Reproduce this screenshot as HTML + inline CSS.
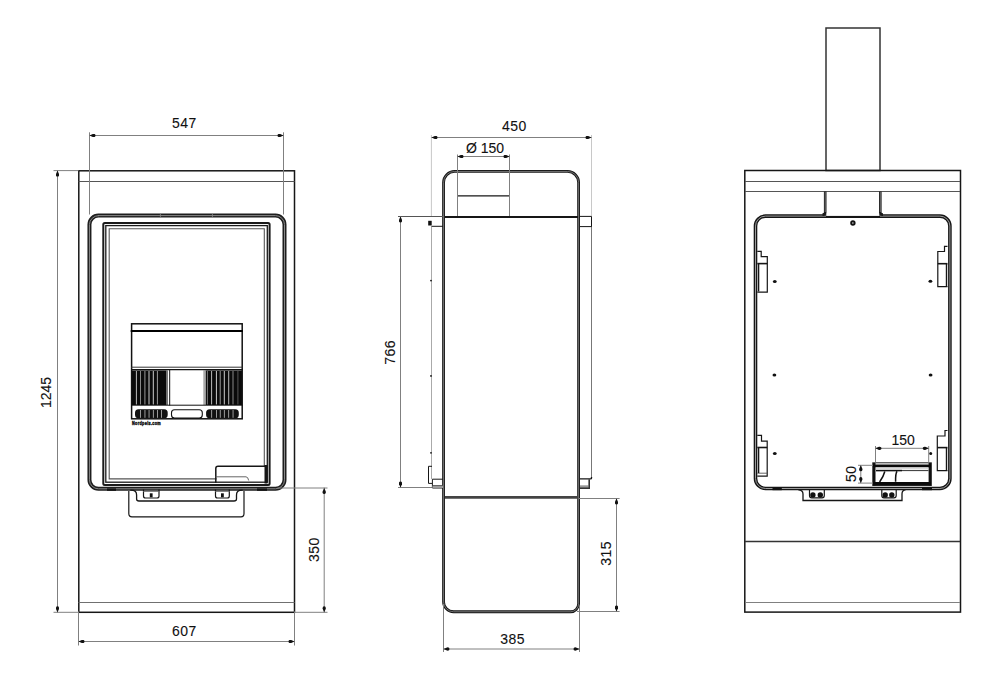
<!DOCTYPE html>
<html><head><meta charset="utf-8">
<style>
html,body{margin:0;padding:0;background:#fff;}
body{width:1000px;height:685px;overflow:hidden;}
svg{display:block;}
text{font-family:"Liberation Sans",sans-serif;fill:#111;stroke:#111;stroke-width:0.1px;letter-spacing:0.5px;}
</style></head><body>
<svg width="1000" height="685" viewBox="0 0 1000 685">
<defs>
<marker id="ar" viewBox="0 0 10 6" refX="10" refY="3" markerWidth="6.5" markerHeight="3.8" orient="auto-start-reverse" markerUnits="userSpaceOnUse">
<path d="M10,3 L4.5,0.5 Q0.5,0 0.5,3 Q0.5,6 4.5,5.5 Z" fill="#111"/>
</marker>
</defs>
<g fill="none" stroke-linecap="square">

<!-- ========== LEFT VIEW ========== -->
<g stroke="#161616" stroke-width="1.5">
<rect x="78.8" y="170.8" width="215.7" height="441.5"/>
</g>
<g stroke="#555" stroke-width="1">
<line x1="79" y1="181.5" x2="294" y2="181.5" stroke="#555"/>
<line x1="79" y1="602.5" x2="294" y2="602.5" stroke="#707070"/>
</g>
<!-- door frame -->
<rect x="89.45" y="215.6" width="195.05" height="273.2" rx="9" stroke="#1e1e1e" stroke-width="4"/>
<rect x="89.45" y="215.6" width="195.05" height="273.2" rx="9" stroke="#888" stroke-width="1"/>
<line x1="160.4" y1="214.5" x2="160.4" y2="216.8" stroke="#888" stroke-width="0.8"/><line x1="212.4" y1="214.5" x2="212.4" y2="216.8" stroke="#888" stroke-width="0.8"/>
<!-- glass frame -->
<g stroke="#1a1a1a">
<rect x="103.3" y="223.1" width="166.3" height="261.9" rx="1.5" stroke-width="2"/>
<rect x="105.8" y="225.6" width="161.5" height="256.6" stroke-width="1.3"/>
<path d="M216,478.9 H109.2 V228.7 H264.3 V466.5" stroke-width="1.1" stroke="#555"/>
</g>


<!-- firebox -->
<g>
<rect x="131.6" y="370.4" width="35" height="34.6" fill="#0a0a0a"/>
<rect x="166.5" y="370.4" width="1.5" height="34.6" fill="#777"/>
<rect x="205.5" y="370.4" width="36.5" height="34.6" fill="#0a0a0a"/>
<rect x="203.3" y="370.4" width="2.3" height="34.6" fill="#aaa"/>
<rect x="135.9" y="371" width="1" height="33.6" fill="#bbb"/><rect x="140.0" y="371" width="1" height="33.6" fill="#888"/><rect x="144.4" y="371" width="1" height="33.6" fill="#999"/><rect x="148.5" y="371" width="1" height="33.6" fill="#ccc"/><rect x="152.8" y="371" width="1" height="33.6" fill="#ccc"/><rect x="156.9" y="371" width="1" height="33.6" fill="#999"/><rect x="206.9" y="371" width="1" height="33.6" fill="#777"/><rect x="211.1" y="371" width="1" height="33.6" fill="#bbb"/><rect x="215.9" y="371" width="1" height="33.6" fill="#ccc"/><rect x="219.7" y="371" width="1" height="33.6" fill="#999"/><rect x="223.8" y="371" width="1" height="33.6" fill="#ccc"/><rect x="228.2" y="371" width="1" height="33.6" fill="#bbb"/><rect x="232.5" y="371" width="1" height="33.6" fill="#888"/><rect x="237.4" y="371" width="1" height="33.6" fill="#555"/>
<rect x="135" y="409.3" width="32.7" height="9" rx="3.5" fill="#111"/>
<rect x="206.1" y="409.3" width="32.7" height="9" rx="3.5" fill="#111"/>
<rect x="140.1" y="410" width="0.9" height="7.8" fill="#aaa"/><rect x="144.5" y="410" width="0.9" height="7.8" fill="#aaa"/><rect x="148.6" y="410" width="0.9" height="7.8" fill="#aaa"/><rect x="152.9" y="410" width="0.9" height="7.8" fill="#aaa"/><rect x="157.0" y="410" width="0.9" height="7.8" fill="#aaa"/><rect x="161.1" y="410" width="0.9" height="7.8" fill="#aaa"/><rect x="211.2" y="410" width="0.9" height="7.8" fill="#aaa"/><rect x="216.0" y="410" width="0.9" height="7.8" fill="#aaa"/><rect x="219.8" y="410" width="0.9" height="7.8" fill="#aaa"/><rect x="223.9" y="410" width="0.9" height="7.8" fill="#aaa"/><rect x="228.2" y="410" width="0.9" height="7.8" fill="#aaa"/><rect x="232.6" y="410" width="0.9" height="7.8" fill="#aaa"/>
<rect x="171.5" y="409.8" width="30.8" height="8.2" rx="3" fill="none" stroke="#111" stroke-width="1.1"/>
<rect x="131.6" y="323.8" width="110.6" height="95" fill="none" stroke="#111" stroke-width="1.5"/>
<line x1="131.6" y1="331" x2="242" y2="331" stroke="#000" stroke-width="1.8"/>
<line x1="131.6" y1="367.2" x2="242" y2="367.2" stroke="#333" stroke-width="1"/>
<line x1="131.6" y1="369.6" x2="242" y2="369.6" stroke="#111" stroke-width="1.2"/>
<line x1="131.6" y1="405.2" x2="242" y2="405.2" stroke="#111" stroke-width="1"/>
<line x1="169.7" y1="370" x2="169.7" y2="405" stroke="#111" stroke-width="1"/>
<text x="132" y="425.4" font-size="6" font-weight="bold" textLength="29" lengthAdjust="spacingAndGlyphs" style="fill:#111;stroke:#111;stroke-width:0.5px">Nordpeis.com</text>
</g>

<!-- lower element / tabs -->
<g fill="none" stroke="#161616" stroke-width="1.2">
<path d="M128.8,491.5 V513.5 Q128.8,516.8 132,516.8 H241 Q244,516.8 244,513.5 V491.5"/>
<path d="M131,490.2 Q136.6,490.2 136.6,495 V499 Q136.6,501 139,501 H234 Q236.5,501 236.5,499 V495 Q236.5,490.2 242,490.2" stroke-width="1.3"/>
<path d="M143.5,490 V496 Q143.5,498 145.5,498 H157 Q159,498 159,496 V490"/>
<path d="M215.5,490 V496 Q215.5,498 217.5,498 H227.3 Q229.3,498 229.3,496 V490"/>
<line x1="143.5" y1="491.5" x2="159" y2="491.5" stroke-width="0.8" stroke="#666"/>
<line x1="215.5" y1="491.5" x2="229.3" y2="491.5" stroke-width="0.8" stroke="#666"/>
<!-- glass bottom right element -->
<path d="M215.8,482 V468.5 Q215.8,466.3 218,466.3 H266" stroke-width="1.5"/><line x1="266" y1="466.5" x2="266" y2="482" stroke-width="3"/>
<path d="M216,476.8 H246 Q248,476.8 248.6,480" stroke-width="0.9" stroke="#555"/>
</g>
<rect x="149.8" y="493.3" width="2.8" height="4" fill="#111"/><rect x="221" y="493.3" width="2.8" height="4" fill="#111"/>
<rect x="257" y="488.4" width="10" height="2.4" fill="#111"/><rect x="107" y="488.4" width="9" height="2.4" fill="#111"/>
<!-- dims left -->
<g stroke="#808080" stroke-width="1">
<line x1="89.5" y1="132.8" x2="89.5" y2="214"/>
<line x1="283.5" y1="132.8" x2="283.5" y2="214"/>
<line x1="89.5" y1="135.5" x2="283.5" y2="135.5" marker-start="url(#ar)" marker-end="url(#ar)"/>
<line x1="54" y1="170.6" x2="78" y2="170.6"/>
<line x1="54" y1="612.3" x2="78" y2="612.3"/>
<line x1="57.5" y1="170.6" x2="57.5" y2="612.3" marker-start="url(#ar)" marker-end="url(#ar)"/>
<line x1="78.5" y1="612" x2="78.5" y2="645"/>
<line x1="294.5" y1="612" x2="294.5" y2="645"/>
<line x1="78.5" y1="641.5" x2="294.5" y2="641.5" marker-start="url(#ar)" marker-end="url(#ar)"/>
<line x1="278" y1="488" x2="327" y2="488"/>
<line x1="295" y1="612.3" x2="327" y2="612.3"/>
<line x1="324.2" y1="488" x2="324.2" y2="612.3" marker-start="url(#ar)" marker-end="url(#ar)"/>
</g>
</g>
<text x="172" y="128" font-size="14">547</text>
<text x="172" y="636" font-size="14">607</text>
<text transform="translate(51,408) rotate(-90)" font-size="14" style="letter-spacing:0">1245</text>
<text transform="translate(318.6,562) rotate(-90)" font-size="14">350</text>

<!-- ========== MIDDLE VIEW ========== -->
<g fill="none">
<path d="M443.55,182.45 A11,11 0 0 1 454.55,171.45 H567.6 A11,11 0 0 1 578.6,182.45 V603.75 A8,8 0 0 1 570.6,611.75 H453.55 A10,10 0 0 1 443.55,601.75 Z" stroke="#161616" stroke-width="2.8"/><path d="M443.55,182.45 A11,11 0 0 1 454.55,171.45 H567.6 A11,11 0 0 1 578.6,182.45 V603.75 A8,8 0 0 1 570.6,611.75 H453.55 A10,10 0 0 1 443.55,601.75 Z" stroke="#999" stroke-width="0.7"/>
<line x1="457.5" y1="195.8" x2="509.5" y2="195.8" stroke="#161616" stroke-width="1.3"/>
<line x1="445" y1="217" x2="578" y2="217" stroke="#161616" stroke-width="2.2"/>
<line x1="445" y1="497.4" x2="578" y2="497.4" stroke="#444" stroke-width="2.8"/>
<g stroke="#808080" stroke-width="1">
<line x1="431.4" y1="135" x2="431.4" y2="216" stroke="#c8c8c8"/><line x1="431.5" y1="226" x2="431.5" y2="479" stroke="#aaa"/>
<line x1="591.5" y1="135" x2="591.5" y2="216" stroke="#c8c8c8"/><line x1="591.5" y1="226" x2="591.5" y2="478" stroke="#777"/>
<line x1="431.5" y1="137.5" x2="591.5" y2="137.5" marker-start="url(#ar)" marker-end="url(#ar)"/>
<line x1="457.5" y1="154.5" x2="457.5" y2="216"/>
<line x1="509.5" y1="154.5" x2="509.5" y2="216"/>
<line x1="457.5" y1="156.5" x2="509.5" y2="156.5" marker-start="url(#ar)" marker-end="url(#ar)"/>
<line x1="398" y1="216.5" x2="443" y2="216.5" stroke="#555"/>
<line x1="398" y1="487.5" x2="432" y2="487.5"/>
<line x1="400.5" y1="216.5" x2="400.5" y2="487.5" marker-start="url(#ar)" marker-end="url(#ar)"/>
<line x1="579" y1="498.5" x2="619.6" y2="498.5"/>
<line x1="577" y1="611.5" x2="619.6" y2="611.5"/>
<line x1="616.5" y1="498.5" x2="616.5" y2="611.5" marker-start="url(#ar)" marker-end="url(#ar)"/>
<line x1="443.5" y1="604" x2="443.5" y2="652"/>
<line x1="579.5" y1="606" x2="579.5" y2="652"/>
<line x1="443.5" y1="649" x2="579.5" y2="649" marker-start="url(#ar)" marker-end="url(#ar)"/>
</g>
<g stroke="#161616" stroke-width="1">
<line x1="431.7" y1="226.3" x2="443" y2="226.3"/>
<line x1="580" y1="226.6" x2="591.5" y2="226.6"/><line x1="580" y1="216.4" x2="591.5" y2="216.4"/><line x1="591.5" y1="216.4" x2="591.5" y2="226.6"/>
<path d="M580,478.9 H590.5 Q591.5,478.9 591.5,477.9 V477" stroke-width="1.4"/>
<path d="M443,479.2 H432.4 V488 H443"/><line x1="432.4" y1="485.6" x2="443" y2="485.6" stroke-width="0.9"/>
<path d="M432,466.3 H428.5 V483.4 H432"/>
</g>
<rect x="432.4" y="485.6" width="10.6" height="2.4" fill="#999"/>
<rect x="580" y="485.3" width="8.5" height="3" fill="#999"/><path d="M580,488.2 H589.2 V479.3" stroke="#333" stroke-width="1.6" fill="none"/>
<rect x="428.2" y="220.8" width="3.5" height="4.7" fill="#111"/>
<circle cx="431" cy="280.6" r="0.9" fill="#111"/>
<circle cx="431" cy="375.9" r="0.9" fill="#111"/>
<circle cx="431" cy="452.8" r="0.9" fill="#111"/>
</g>
<text x="502" y="131" font-size="14">450</text>
<text x="466" y="153" font-size="14" style="letter-spacing:0">Ø 150</text>
<text x="500.3" y="643.5" font-size="14">385</text>
<text transform="translate(395.2,364.7) rotate(-90)" font-size="14">766</text>
<text transform="translate(611,565.8) rotate(-90)" font-size="14">315</text>

<!-- ========== RIGHT VIEW ========== -->
<g fill="none">
<rect x="826" y="28" width="54" height="142.5" stroke="#333" stroke-width="1.5"/>
<rect x="744.8" y="170.5" width="215.7" height="441.6" stroke="#161616" stroke-width="1.5"/>
<g stroke="#555" stroke-width="1">
<line x1="745" y1="181.5" x2="960" y2="181.5"/>
<line x1="745" y1="191.5" x2="960" y2="191.5"/>
<line x1="745" y1="602.5" x2="960" y2="602.5" stroke="#808080"/>
</g>
<line x1="745" y1="541.5" x2="960" y2="541.5" stroke="#333" stroke-width="1.3"/>
<rect x="755.5" y="216.1" width="194.4" height="272.4" rx="10" stroke="#161616" stroke-width="3.6"/>
<rect x="755.5" y="216.1" width="194.4" height="272.4" rx="10" stroke="#aaa" stroke-width="0.9"/>
<rect x="826.3" y="213" width="53" height="2.9" fill="#fff" stroke="none"/>
<line x1="826" y1="216.8" x2="880" y2="216.8" stroke="#161616" stroke-width="1.6"/>
<g stroke="#1a1a1a" stroke-width="2.6" fill="none">
<path d="M825.2,191.5 V212.5 Q825.2,214.6 822.5,214.6"/>
<path d="M880.3,191.5 V212.5 Q880.3,214.6 883,214.6"/>
</g>
<g stroke="#999" stroke-width="0.7" fill="none">
<line x1="825.2" y1="192" x2="825.2" y2="212"/>
<line x1="880.3" y1="192" x2="880.3" y2="212"/>
</g>

<circle cx="852.9" cy="223" r="1.7" stroke="#111" stroke-width="2"/>
</g>

<!-- right view details -->
<g fill="none" stroke="#161616" stroke-width="1.2">
<!-- left brackets -->
<path d="M757.3,251.4 H761.2 V256.6 H767.3 V292.1 H757.3"/>
<line x1="757.3" y1="263.6" x2="767.3" y2="263.6" stroke-width="1.6"/>
<line x1="758.6" y1="264" x2="758.6" y2="291.5" stroke="#161616" stroke-width="1.4"/>
<path d="M757.3,435.3 H761.5 V441.1 H767.2 V476.1 H757.3"/>
<line x1="757.3" y1="447.5" x2="767.2" y2="447.5" stroke-width="1.6"/>
<line x1="757.3" y1="473.2" x2="767.2" y2="473.2" stroke-width="0.9" stroke="#555"/>
<line x1="758.6" y1="448" x2="758.6" y2="473" stroke="#161616" stroke-width="1.4"/>
<!-- right brackets -->
<path d="M947.5,246.3 H944.5 V251.5 H937.8 V286.7 H947.5"/>
<line x1="937.8" y1="263.7" x2="947.5" y2="263.7" stroke-width="1.6"/><line x1="946.5" y1="264" x2="946.5" y2="286.5" stroke-width="1.4"/>
<path d="M947.5,430.5 H945 V436 H937.3 V470.6 H947.5"/>
<line x1="937.3" y1="447.6" x2="947.5" y2="447.6" stroke-width="1.6"/><line x1="946.5" y1="448" x2="946.5" y2="470.5" stroke-width="1.4"/>
<!-- bottom tray -->
<path d="M798.4,489.8 Q803,490 803,494 V500.5 H902 V494 Q902,490 905.5,489.8" stroke-width="1.3"/>
<path d="M809.5,490 V495.5 Q809.5,497.8 811.7,497.8 H822.1 Q824.3,497.8 824.3,495.5 V490"/>
<path d="M881.8,490 V495.5 Q881.8,497.8 884,497.8 H894 Q896.2,497.8 896.2,495.5 V490"/>
</g>
<g fill="#111">
<circle cx="812.9" cy="495" r="2.7"/><circle cx="820.3" cy="495" r="2.7"/>
<circle cx="885.2" cy="495" r="2.7"/><circle cx="891.8" cy="495" r="2.7"/>
<ellipse cx="774.8" cy="281.4" rx="1.9" ry="1.5"/><ellipse cx="930.4" cy="281.3" rx="1.9" ry="1.5"/>
<ellipse cx="774.4" cy="375.1" rx="1.9" ry="1.5"/><ellipse cx="930.6" cy="375.1" rx="1.9" ry="1.5"/>
<ellipse cx="774.8" cy="453.4" rx="1.9" ry="1.5"/><ellipse cx="930.7" cy="453.5" rx="1.5" ry="1.5"/>
</g>
<rect x="772.5" y="487.6" width="9.3" height="2.6" fill="#111"/><rect x="922" y="487.6" width="10" height="2.6" fill="#111"/>
<!-- 150 box -->
<g fill="none">
<rect x="872.8" y="462.8" width="58.5" height="22.7" stroke="#222" stroke-width="1"/>
<line x1="874.2" y1="463" x2="874.2" y2="485.5" stroke="#111" stroke-width="2.6"/>
<line x1="929.9" y1="463" x2="929.9" y2="485.5" stroke="#111" stroke-width="2.6"/>
<line x1="873" y1="465.9" x2="931" y2="465.9" stroke="#0a0a0a" stroke-width="2.6"/>
<line x1="876" y1="468.8" x2="928.5" y2="468.8" stroke="#bbb" stroke-width="0.8"/>
<line x1="876" y1="470.6" x2="902" y2="470.6" stroke="#111" stroke-width="1.5"/>
<line x1="902" y1="470.6" x2="928.5" y2="470.6" stroke="#333" stroke-width="1"/>
<line x1="873" y1="483.6" x2="931" y2="483.6" stroke="#0a0a0a" stroke-width="3"/>
<path d="M884.8,471.5 Q883.5,476.5 879.6,482" stroke="#111" stroke-width="1.5"/>
<path d="M897,471.2 Q895.4,473.5 895.6,481.8" stroke="#111" stroke-width="1.5"/>
<g stroke="#808080" stroke-width="1">
<line x1="875.5" y1="446" x2="875.5" y2="462.5"/>
<line x1="928.7" y1="446" x2="928.7" y2="462.5"/>
<line x1="875.5" y1="448.3" x2="928.7" y2="448.3" marker-start="url(#ar)" marker-end="url(#ar)"/>
<line x1="858" y1="465.3" x2="873" y2="465.3"/>
<line x1="858" y1="483.1" x2="873" y2="483.1"/>
<line x1="860.8" y1="465.3" x2="860.8" y2="483.1" marker-start="url(#ar)" marker-end="url(#ar)"/>
</g>
</g>
<text x="891.5" y="444.8" font-size="14" style="letter-spacing:0">150</text>
<text transform="translate(856.4,482) rotate(-90)" font-size="14">50</text>
</svg>
</body></html>
